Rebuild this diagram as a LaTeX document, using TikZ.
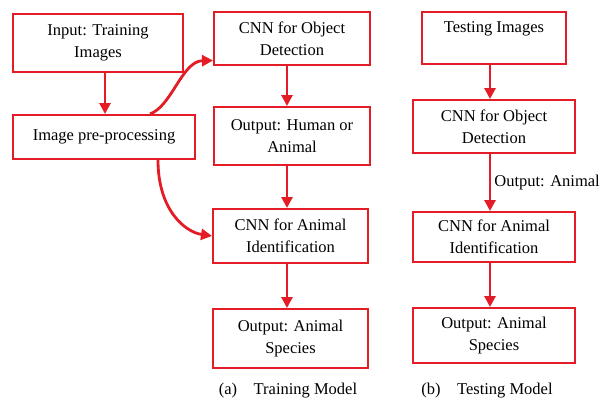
\documentclass[tikz,border=0pt]{standalone}
\usepackage{fontspec}
\setmainfont{Liberation Serif}
\newfontfamily\tms{Liberation Serif}
\usetikzlibrary{arrows.meta}
\definecolor{redline}{RGB}{228,28,38}
\tikzset{
  box/.style={draw=redline, line width=2pt, align=center, inner sep=0pt,
    font=\tms\fontsize{16.5}{22}\selectfont},
  arr/.style={draw=redline, line width=2.8pt, -{Triangle[length=11pt,width=11pt]}},
  captext/.style={font=\tms\fontsize{16.5}{20}\selectfont},
}
\begin{document}
\begin{tikzpicture}[x=1pt,y=-1pt]
\useasboundingbox (0,0) rectangle (603,402);
% training column
\node[box, minimum width=170pt, minimum height=58pt] (in) at (98,43) {Input: Training\\Images};
\node[box, minimum width=182pt, minimum height=44pt] (pre) at (104,137) {Image pre-processing};
\node[box, minimum width=156pt, minimum height=53pt] (od) at (292,38.5) {CNN for Object\\Detection};
\node[box, minimum width=156pt, minimum height=58pt] (hum) at (292,136) {Output: Human or\\Animal};
\node[box, minimum width=155pt, minimum height=54pt] (ai) at (290.5,236) {CNN for Animal\\Identification};
\node[box, minimum width=155pt, minimum height=59pt] (sp) at (290.5,338.5) {Output: Animal\\Species};
\node[captext] (capa) at (288,391) {(a)\quad Training Model};
% testing column
\node[box, minimum width=144pt, minimum height=52pt] (ti) at (494,38) {Testing Images\\\mbox{}};
\node[box, minimum width=162pt, minimum height=53pt] (tod) at (494,126.5) {CNN for Object\\Detection};
\node[box, minimum width=162pt, minimum height=50pt] (tai) at (494,237) {CNN for Animal\\Identification};
\node[box, minimum width=162pt, minimum height=55pt] (tsp) at (494,335.5) {Output: Animal\\Species};
\node[captext] (capb) at (487,391) {(b)\quad Testing Model};
% training arrows
\draw[arr] ([xshift=7pt]in.south) -- ([xshift=1pt]pre.north);
\draw[arr] ([xshift=-5pt]od.south) -- ([xshift=-5pt]hum.north);
\draw[arr] ([xshift=-5pt]hum.south) -- ([xshift=-3.5pt]ai.north);
\draw[arr] ([xshift=-3.5pt]ai.south) -- ([xshift=-3.5pt]sp.north);
\draw[arr] ([xshift=46pt]pre.north) .. controls (172,106) and (182,61) .. ([yshift=-22pt]od.west);
\draw[arr] ([xshift=54pt]pre.south) .. controls (158,210) and (185,232) .. (ai.west);
% testing arrows
\draw[arr] ([xshift=-4pt]ti.south) -- ([xshift=-4pt]tod.north);
\draw[arr] ([xshift=-4pt]tod.south) -- node[right, font=\tms\fontsize{16.5}{20}\selectfont, inner sep=3pt] (lbl) {Output: Animal} ([xshift=-4pt]tai.north);
\draw[arr] ([xshift=-4pt]tai.south) -- ([xshift=-4pt]tsp.north);
\end{tikzpicture}
\end{document}
